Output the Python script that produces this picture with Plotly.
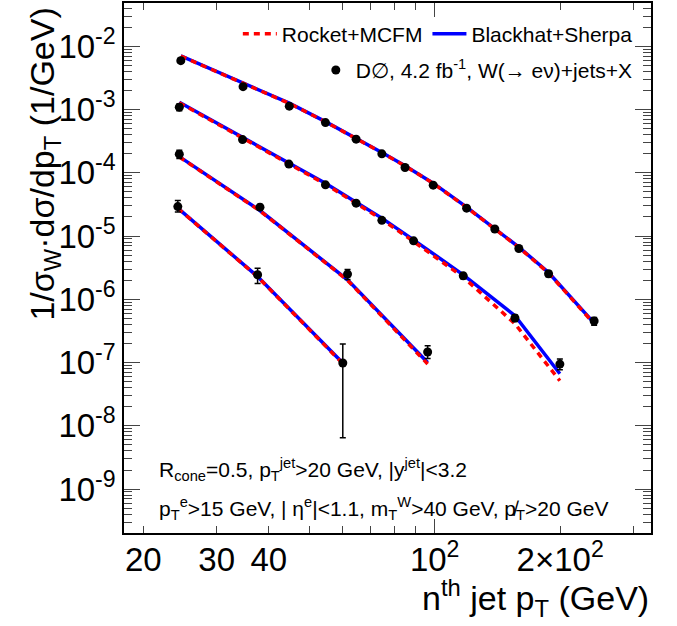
import plotly.graph_objects as go

# ---------------- data ----------------
jet1_pt = [24.6, 34.7, 44.8, 54.7, 64.8, 74.7, 84.9, 99.2, 119.3, 139.4, 159.2, 187.6, 241.3]
jet1_y = [5.92e-3, 2.30e-3, 1.13e-3, 6.21e-4, 3.40e-4, 1.99e-4, 1.21e-4, 6.37e-5, 2.76e-5, 1.29e-5, 6.35e-6, 2.53e-6, 4.53e-7]
jet1_eup = [0.08, 0.05, 0.05, 0.05, 0.05, 0.05, 0.06, 0.06, 0.07, 0.07, 0.08, 0.10, 0.14]
jet1_edn = [0.08, 0.05, 0.05, 0.05, 0.05, 0.05, 0.06, 0.06, 0.07, 0.07, 0.08, 0.10, 0.14]
jet1_bh = [7.03e-3, 2.66e-3, 1.26e-3, 6.44e-4, 3.52e-4, 2.09e-4, 1.29e-4, 6.85e-5, 2.86e-5, 1.33e-5, 6.68e-6, 2.65e-6, 4.20e-7]
jet1_rk = [7.00e-3, 2.64e-3, 1.25e-3, 6.40e-4, 3.50e-4, 2.08e-4, 1.28e-4, 6.80e-5, 2.84e-5, 1.32e-5, 6.60e-6, 2.60e-6, 4.10e-7]

jet2_pt = [24.4, 34.6, 44.7, 54.7, 64.8, 74.7, 89.0, 117.1, 155.8, 199.7]
jet2_y = [1.09e-3, 3.35e-4, 1.37e-4, 6.44e-5, 3.31e-5, 1.77e-5, 8.40e-6, 2.35e-6, 5.05e-7, 9.46e-8]
jet2_eup = [0.12, 0.06, 0.06, 0.06, 0.06, 0.07, 0.08, 0.10, 0.12, 0.20]
jet2_edn = [0.12, 0.06, 0.06, 0.06, 0.06, 0.07, 0.08, 0.10, 0.12, 0.19]
jet2_bh = [1.30e-3, 3.65e-4, 1.45e-4, 6.85e-5, 3.43e-5, 1.92e-5, 8.70e-6, 2.44e-6, 5.50e-7, 6.65e-8]
jet2_rk = [1.28e-3, 3.55e-4, 1.40e-4, 6.60e-5, 3.30e-5, 1.83e-5, 8.20e-6, 2.24e-6, 4.10e-7, 5.15e-8]

jet3_pt = [24.4, 38.1, 61.8, 96.2]
jet3_y = [1.97e-4, 2.86e-5, 2.50e-6, 1.465e-7]
jet3_eup = [0.15, 0.10, 0.18, 0.26]
jet3_edn = [0.15, 0.10, 0.18, 0.21]
jet3_bh = [1.80e-4, 2.53e-5, 2.03e-6, 1.00e-7]
jet3_rk = [1.78e-4, 2.50e-5, 2.00e-6, 0.95e-7]

jet4_pt = [24.2, 37.6, 60.2]
jet4_y = [2.92e-5, 2.44e-6, 9.82e-8]
jet4_eup = [0.25, 0.27, 1.00]
jet4_edn = [0.18, 0.27, 0.934]
jet4_bh = [2.76e-5, 2.29e-6, 9.80e-8]
jet4_rk = [2.74e-5, 2.27e-6, 9.60e-8]

x_tickvals = [20, 30, 40, 50, 60, 70, 80, 90, 100, 200, 300]
x_ticktext = ["20", "30", "40", "", "", "", "", "", "10<sup>2</sup>", "2×10<sup>2</sup>", ""]
y_tickvals = [1e-9, 1e-8, 1e-7, 1e-6, 1e-5, 1e-4, 1e-3, 1e-2]
y_ticktext = ["10<sup>-9</sup>", "10<sup>-8</sup>", "10<sup>-7</sup>", "10<sup>-6</sup>",
              "10<sup>-5</sup>", "10<sup>-4</sup>", "10<sup>-3</sup>", "10<sup>-2</sup>"]

FONT = "Liberation Sans, Arial, Helvetica, sans-serif"
BLUE = "#0000ff"
RED = "#ff0000"

series = [
    (jet1_pt, jet1_y, jet1_eup, jet1_edn, jet1_bh, jet1_rk),
    (jet2_pt, jet2_y, jet2_eup, jet2_edn, jet2_bh, jet2_rk),
    (jet3_pt, jet3_y, jet3_eup, jet3_edn, jet3_bh, jet3_rk),
    (jet4_pt, jet4_y, jet4_eup, jet4_edn, jet4_bh, jet4_rk),
]

fig = go.Figure()

for i, (pt, y, eu, ed, bh, rk) in enumerate(series):
    first = i == 0
    fig.add_trace(go.Scatter(
        x=pt, y=bh, mode="lines", line=dict(color=BLUE, width=3.5),
        name="Blackhat+Sherpa", showlegend=first, legend="legend", legendrank=2,
    ))
    fig.add_trace(go.Scatter(
        x=pt, y=rk, mode="lines", line=dict(color=RED, width=3.5, dash="6px,5px"),
        name="Rocket+MCFM", showlegend=first, legend="legend", legendrank=1,
    ))

for i, (pt, y, eu, ed, bh, rk) in enumerate(series):
    fig.add_trace(go.Scatter(
        x=pt, y=y, mode="markers",
        marker=dict(color="black", size=9, symbol="circle"),
        error_y=dict(type="data", symmetric=False,
                     array=[v * e for v, e in zip(y, eu)],
                     arrayminus=[v * e for v, e in zip(y, ed)],
                     color="black", thickness=1.5, width=3),
        name="D∅, 4.2 fb<sup>-1</sup>, W(→ eν)+jets+X",
        showlegend=(i == 0), legend="legend2",
    ))

# invisible helper trace so that the overlaid axis (long decade tick) is drawn
fig.add_trace(go.Scatter(x=[100], y=[1e-3], xaxis="x2", mode="markers",
                         marker=dict(opacity=0), showlegend=False, hoverinfo="skip"))

axis_common = dict(showline=True, linecolor="black", linewidth=1.5, mirror="ticks",
                   ticks="inside", showgrid=False, zeroline=False, automargin=False,
                   tickfont=dict(family=FONT, size=33, color="black"))

fig.update_layout(
    width=677, height=626,
    margin=dict(l=124, r=26, t=3, b=93, autoexpand=False),
    paper_bgcolor="white", plot_bgcolor="white",
    font=dict(family=FONT, color="black"),
    xaxis=dict(type="log", range=[1.2547, 2.519], tickvals=x_tickvals, ticktext=x_ticktext,
               ticklen=7, tickwidth=1.2, ticklabelstandoff=-3, **axis_common),
    xaxis2=dict(type="log", range=[1.2547, 2.519], overlaying="x", tickvals=[100],
                ticks="inside", ticklen=14, tickwidth=1.2, showticklabels=False,
                showgrid=False, zeroline=False, showline=False, mirror="ticks",
                anchor="y", side="bottom", automargin=False),
    yaxis=dict(type="log", range=[-9.695, -1.316], tickvals=y_tickvals, ticktext=y_ticktext,
               ticklen=16, tickwidth=1.2,
               minor=dict(ticks="inside", ticklen=8, dtick="D1", showgrid=False, tickwidth=1.2),
               **axis_common),
    legend=dict(orientation="h", x=0.975, xanchor="right", y=0.9415, yanchor="middle",
                font=dict(family=FONT, size=21, color="black"), bgcolor="rgba(0,0,0,0)",
                itemwidth=34, traceorder="normal"),
    legend2=dict(x=0.975, xanchor="right", y=0.873, yanchor="middle",
                 font=dict(family=FONT, size=21, color="black"), bgcolor="rgba(0,0,0,0)",
                 itemwidth=30),
    showlegend=True,
)

fig.add_annotation(
    text="1/σ<sub>W</sub>·dσ/dp<sub>T</sub> (1/GeV)", textangle=-90,
    xref="paper", yref="paper", x=-0.15, y=0.996, xanchor="center", yanchor="top",
    showarrow=False, font=dict(family=FONT, size=34, color="black"),
)
fig.add_annotation(
    text="n<sup>th</sup> jet p<sub>T</sub> (GeV)",
    xref="paper", yref="paper", x=1.0, y=-0.123, xanchor="right", yanchor="middle",
    showarrow=False, font=dict(family=FONT, size=34, color="black"),
)
fig.add_annotation(
    text="R<sub>cone</sub>=0.5, p<sub>T</sub><sup>jet</sup>>20 GeV, |y<sup>jet</sup>|<3.2",
    xref="paper", yref="paper", x=0.0626, y=0.119, xanchor="left", yanchor="middle",
    showarrow=False, font=dict(family=FONT, size=21, color="black"),
)
fig.add_annotation(
    text="p<sub>T</sub><sup>e</sup>>15 GeV, | η<sup>e</sup>|<1.1, m<sub>T</sub><sup>W</sup>>40 GeV, p\u0338<sub>T</sub>>20 GeV",
    xref="paper", yref="paper", x=0.0626, y=0.047, xanchor="left", yanchor="middle",
    showarrow=False, font=dict(family=FONT, size=21, color="black"),
)

fig.write_html("out.html", config={"displayModeBar": False},
               post_script="document.body.style.margin='0px';")
